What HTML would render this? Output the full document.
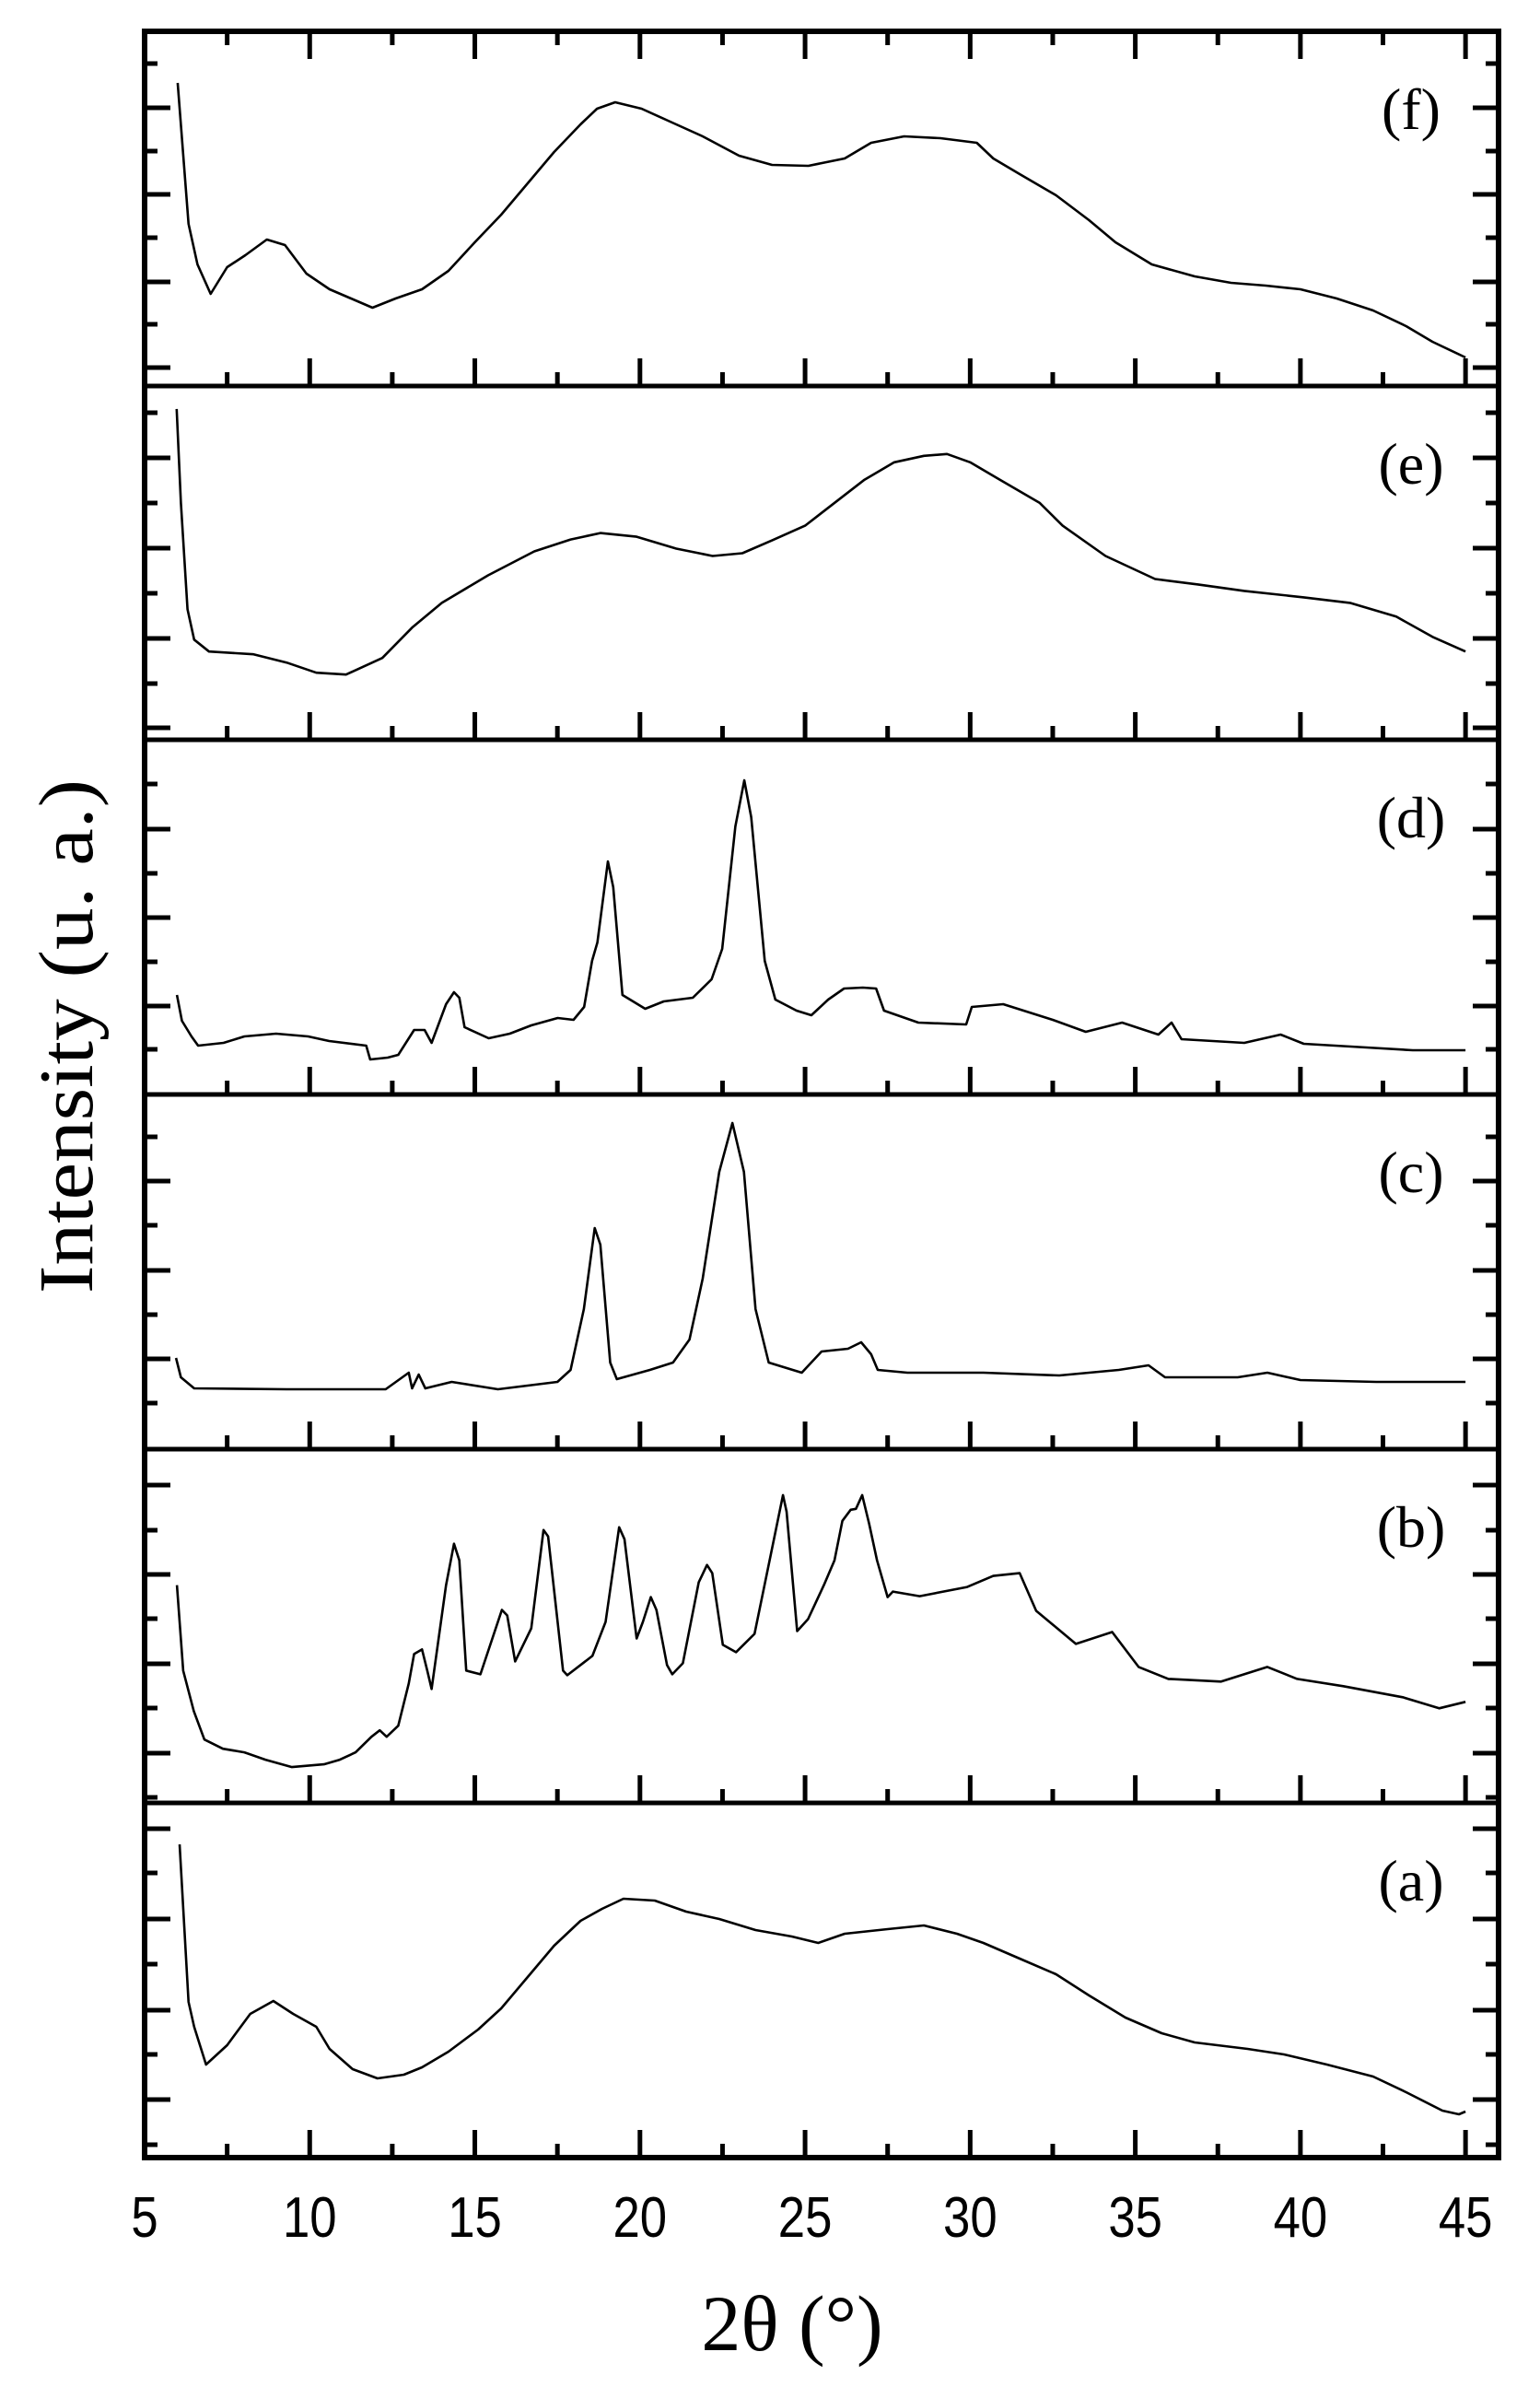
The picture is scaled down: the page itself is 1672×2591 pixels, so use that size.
<!DOCTYPE html>
<html><head><meta charset="utf-8"><title>XRD patterns</title>
<style>html,body{margin:0;padding:0;background:#fff}svg{display:block}</style></head>
<body>
<svg id="chart" width="1672" height="2591" viewBox="0 0 1672 2591" xmlns="http://www.w3.org/2000/svg">
<rect x="0" y="0" width="1672" height="2591" fill="#fff"/>
<g id="plots"></g>
<g id="axes"></g>
<text x="860" y="2551" font-family="Liberation Serif, serif" font-size="86" text-anchor="middle">2θ (°)</text>
<text transform="translate(100,1125) rotate(-90)" font-family="Liberation Serif, serif" font-size="84" text-anchor="middle" textLength="558" lengthAdjust="spacingAndGlyphs">Intensity (u. a.)</text>
</svg>
<script>
const panelNames = ["f","e","d","c","b","a"];
const panelTops = [34, 419, 803, 1188, 1573, 1957];
const panelBottoms = [419, 803, 1188, 1573, 1957, 2342];
const xTickLabels = [5,10,15,20,25,30,35,40,45];
const xMinorTicks = [7.5,12.5,17.5,22.5,27.5,32.5,37.5,42.5];
const yMajorTicks = [[117,211,306,399],[497,595,693,790],[900,996,1092],[1282,1379,1475],[1612,1709,1806,1903],[1985,2083,2182,2279]];
const yMinorTicks = [[69,164,258,352],[448,546,644,742],[851,948,1044,1139],[1234,1330,1427,1523],[1661,1757,1854,1951],[2033,2132,2230,2328]];

const thetaF = [6.0,6.33,6.6,7.0,7.5,8.05,8.7,9.25,9.9,10.6,11.25,11.9,12.6,13.4,14.2,15.0,15.8,16.6,17.4,18.2,18.7,19.25,20.05,20.85,21.9,23.0,24.0,25.1,26.2,27.0,28.0,29.1,30.2,30.7,31.5,32.6,33.6,34.4,35.5,36.8,37.9,38.95,40.0,41.1,42.2,43.2,44.0,45.0];
const intF = [329,176,132,100,129,142,159,153,122,105,95,85,95,105,125,156,186,220,254,284,301,308,301,288,271,250,240,239,247,264,271,269,264,247,230,207,180,156,132,119,112,109,105,95,82,65,48,31];

const thetaE = [5.97,6.1,6.3,6.5,6.95,8.3,9.3,10.2,11.1,12.2,13.1,14.0,15.4,16.8,17.9,18.8,19.9,21.1,22.2,23.1,24.0,25.0,25.9,26.8,27.7,28.6,29.3,30.0,30.9,32.1,32.8,34.1,35.6,36.9,38.3,40.1,41.5,42.9,44.0,45.0];
const intE = [360,258,142,109,96,93,84,73,71,89,122,149,179,205,218,225,221,208,200,203,217,233,258,283,302,309,311,302,283,258,233,200,175,169,162,155,149,134,112,96];

const thetaD = [5.98,6.13,6.42,6.62,7.39,8.02,8.98,9.95,10.59,11.71,11.83,12.36,12.68,13.16,13.48,13.69,14.13,14.37,14.53,14.69,15.42,16.06,16.71,17.51,17.99,18.31,18.55,18.71,19.03,19.19,19.47,20.16,20.72,21.6,22.17,22.49,22.89,23.16,23.37,23.78,24.1,24.74,25.19,25.7,26.18,26.75,27.15,27.39,28.43,29.88,30.05,31.0,32.5,33.5,34.6,35.7,36.1,36.4,38.3,39.4,40.1,42.0,43.4,45.0];
const intD = [108,80,63,53,56,63,66,63,58,53,38,40,43,70,70,56,98,111,105,73,61,66,75,83,81,95,145,165,253,225,108,93,101,105,125,158,291,341,301,145,103,91,86,103,115,116,115,91,78,76,95,98,81,68,78,65,78,60,56,65,55,51,48,48];

const thetaC = [5.95,6.1,6.5,9.3,12.3,13.0,13.1,13.3,13.5,14.3,15.7,17.5,17.9,18.3,18.63,18.8,19.1,19.3,20.3,21.0,21.5,21.9,22.4,22.8,23.15,23.5,23.9,24.9,25.5,26.3,26.7,27.0,27.2,28.1,30.4,32.7,34.5,35.4,35.9,38.1,39.0,40.0,42.3,45.0];
const intC = [99,78,66,65,65,83,66,81,66,73,65,73,86,152,240,222,94,76,86,94,119,185,301,354,301,152,94,83,106,109,116,103,86,83,83,80,86,91,78,78,83,75,73,73];

const thetaB = [5.98,6.17,6.49,6.81,7.37,8.02,8.66,9.46,10.43,10.91,11.39,11.87,12.12,12.33,12.68,13.0,13.16,13.4,13.56,13.69,14.13,14.37,14.53,14.74,15.17,15.42,15.82,15.98,16.22,16.71,17.08,17.22,17.67,17.8,18.56,18.96,19.37,19.53,19.9,20.09,20.33,20.5,20.82,20.98,21.3,21.78,22.03,22.19,22.51,22.91,23.47,23.96,24.33,24.44,24.76,25.09,25.57,25.89,26.13,26.38,26.54,26.73,26.94,27.18,27.5,27.66,28.47,29.91,30.7,31.5,32.0,33.2,34.3,35.1,36.0,37.6,39.0,39.9,41.3,43.1,44.2,45.0];
const intB = [237,144,100,69,59,55,47,39,42,47,55,72,79,72,84,130,162,167,144,124,237,282,264,144,140,167,210,204,154,190,297,290,144,139,160,197,300,287,179,197,224,210,150,140,152,240,259,250,172,164,184,270,335,317,187,200,237,264,307,319,320,335,304,264,224,230,225,235,247,250,209,173,186,148,135,132,148,135,127,115,103,110];

const thetaA = [6.06,6.33,6.5,6.86,7.5,8.2,8.9,9.5,10.2,10.6,11.3,12.05,12.85,13.4,14.2,15.1,15.8,16.6,17.4,18.2,18.85,19.5,20.45,21.4,22.4,23.5,24.6,25.4,26.2,27.5,28.6,29.6,30.4,31.5,32.6,33.6,34.7,35.8,36.8,38.4,39.5,40.8,42.2,43.2,44.3,44.8,45.0];
const intA = [340,169,142,101,122,156,170,156,142,118,96,86,90,98,115,139,162,196,230,257,270,281,279,267,259,247,240,233,243,248,252,243,233,216,199,176,152,135,125,118,112,101,88,71,51,47,50];

const seriesTheta = [thetaF, thetaE, thetaD, thetaC, thetaB, thetaA];
const seriesInt = [intF, intE, intD, intC, intB, intA];

const NS = "http://www.w3.org/2000/svg";
const X0 = 157, X1 = 1627, T0 = 5, T1 = 46;
function xScale(t){ return X0 + (t - T0) * (X1 - X0) / (T1 - T0); }
function yScale(p, v){ const b = panelBottoms[p], h = b - panelTops[p]; return b - v * h / 385; }
function mk(tag, attrs, parent){ const e = document.createElementNS(NS, tag); for (const k in attrs) e.setAttribute(k, attrs[k]); parent.appendChild(e); return e; }

const plots = document.getElementById('plots');
const axes = document.getElementById('axes');

for (let p = 0; p < 6; p++) {
  const th = seriesTheta[p], iv = seriesInt[p];
  let d = "";
  for (let i = 0; i < th.length; i++) d += (i ? "L" : "M") + xScale(th[i]).toFixed(1) + "," + yScale(p, iv[i]).toFixed(1);
  const path = mk('path', {d: d, fill: 'none', stroke: '#000', 'stroke-width': 2.6, 'stroke-linejoin': 'round'}, plots);
  
  
  const lab = mk('text', {x: 1532, y: (panelTops[p] + 106), 'font-family': 'Liberation Serif, serif', 'font-size': 64, 'text-anchor': 'middle'}, plots);
  lab.textContent = '(' + panelNames[p] + ')';
  
  
}

// panel separators
for (let p = 0; p < 5; p++) {
  const ln = mk('line', {x1: X0, x2: X1, y1: panelBottoms[p], y2: panelBottoms[p], stroke: '#000', 'stroke-width': 5}, axes);
  
  
}
const frame = mk('rect', {x: X0, y: 34, width: X1 - X0, height: 2342 - 34, fill: 'none', stroke: '#000', 'stroke-width': 6}, axes);



// x ticks
for (let p = 0; p < 6; p++) {
  const b = panelBottoms[p];
  for (const t of xTickLabels) {
    if (t === 5) continue;
    const tk = mk('line', {x1: xScale(t), x2: xScale(t), y1: b, y2: b - 30, stroke: '#000', 'stroke-width': 5}, axes);
    
    
  }
  for (const t of xMinorTicks) {
    const tk = mk('line', {x1: xScale(t), x2: xScale(t), y1: b, y2: b - 15, stroke: '#000', 'stroke-width': 5}, axes);
    
    
  }
}
for (const t of xTickLabels) {
  if (t === 5) continue;
  const tk = mk('line', {x1: xScale(t), x2: xScale(t), y1: 34, y2: 64, stroke: '#000', 'stroke-width': 5}, axes);
  
  
}
for (const t of xMinorTicks) {
  const tk = mk('line', {x1: xScale(t), x2: xScale(t), y1: 34, y2: 49, stroke: '#000', 'stroke-width': 5}, axes);
  
  
}
for (const t of xTickLabels) {
  const tx = xScale(t);
  const lb = mk('text', {x: 0, y: 0, transform: 'translate(' + tx + ',2428) scale(0.85,1)', 'font-family': 'Liberation Sans, sans-serif', 'font-size': 62, 'text-anchor': 'middle'}, axes);
  lb.textContent = String(t);
  
  
}
// y ticks
for (let p = 0; p < 6; p++) {
  for (const y of yMajorTicks[p]) {
    const a = mk('line', {x1: X0, x2: X0 + 28, y1: y, y2: y, stroke: '#000', 'stroke-width': 5}, axes);
    
    
    const c = mk('line', {x1: X1, x2: X1 - 28, y1: y, y2: y, stroke: '#000', 'stroke-width': 5}, axes);
    
    
  }
  for (const y of yMinorTicks[p]) {
    const a = mk('line', {x1: X0, x2: X0 + 14, y1: y, y2: y, stroke: '#000', 'stroke-width': 5}, axes);
    
    
    const c = mk('line', {x1: X1, x2: X1 - 14, y1: y, y2: y, stroke: '#000', 'stroke-width': 5}, axes);
    
    
  }
}
</script>
</body></html>
